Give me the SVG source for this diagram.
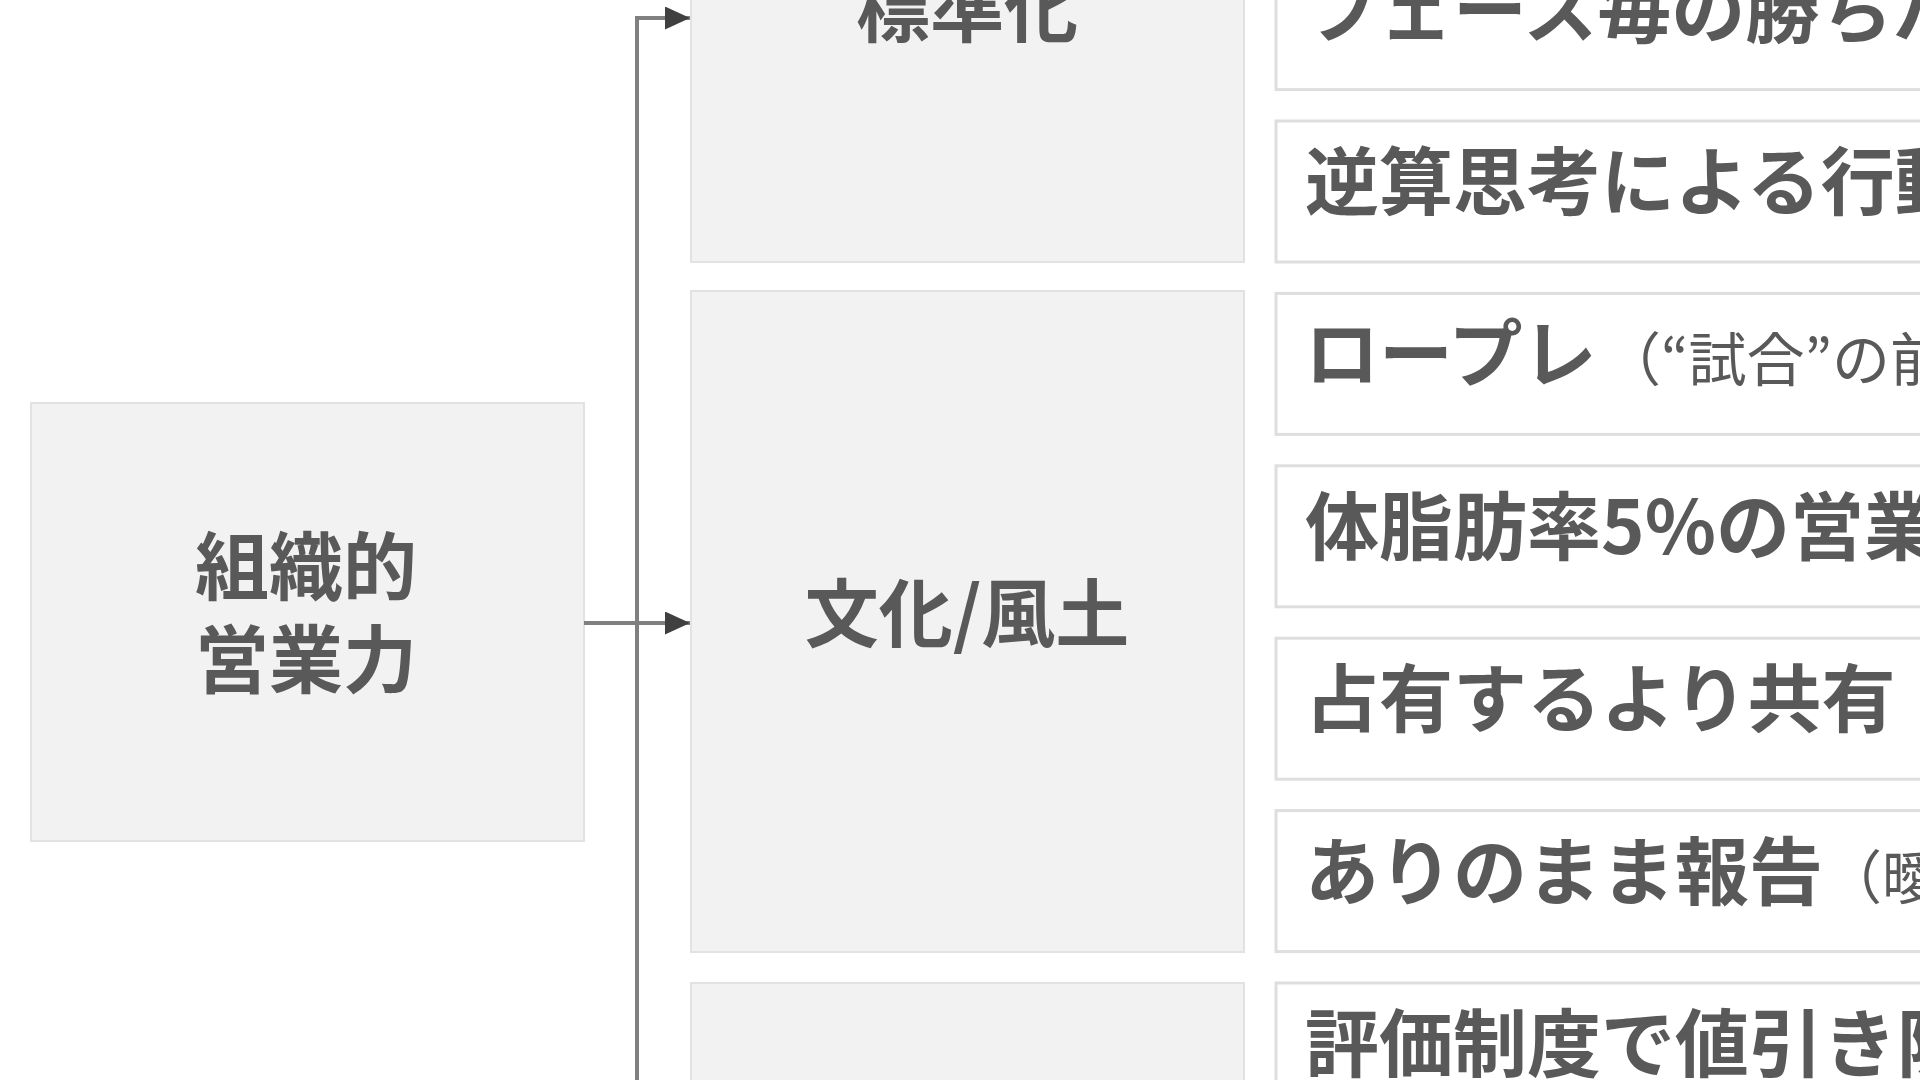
<svg xmlns="http://www.w3.org/2000/svg" width="1920" height="1080" viewBox="0 0 1920 1080">
  <style>
    .gray { fill: #f2f2f2; stroke: #e2e2e2; stroke-width: 2; }
    .item { fill: #ffffff; stroke: #dedede; stroke-width: 3; }
    .t { font-family: "Noto Sans CJK JP", "Noto Sans", sans-serif; font-weight: 700; font-size: 74px; fill: #595959; }
    .c { text-anchor: middle; }
    .s { font-weight: 400; font-size: 58px; }
    .conn { fill: none; stroke: #808080; stroke-width: 4; }
  </style>
  <defs>
    <marker id="arrow" markerUnits="userSpaceOnUse" markerWidth="25" markerHeight="23" refX="25" refY="11.5" orient="auto">
      <path d="M0,0 L25,11.5 L0,23 Z" fill="#404040"/>
    </marker>
  </defs>
  <rect width="1920" height="1080" fill="#ffffff"/>

  <g id="node-root">
    <rect class="gray" x="31" y="403" width="553" height="438"/>
    <text class="t c" x="306" y="594">組織的</text>
    <text class="t c" x="306" y="687">営業力</text>
  </g>

  <g id="connectors">
    <path class="conn" d="M637,1100 V18 H690" marker-end="url(#arrow)"/>
    <path class="conn" d="M584,623 H690" marker-end="url(#arrow)"/>
  </g>

  <g id="node-hyojunka">
    <rect class="gray" x="691" y="-224" width="553" height="486"/>
    <text class="t c" x="967" y="36">標準化</text>
  </g>
  <g id="node-bunka">
    <rect class="gray" x="691" y="291" width="553" height="661"/>
    <text class="t c" x="967" y="641">文化/風土</text>
  </g>
  <g id="node-third">
    <rect class="gray" x="691" y="983" width="553" height="300"/>
  </g>

  <g id="item-1">
    <rect class="item" x="1276" y="-51.4" width="700" height="141"/>
    <text class="t" x="1305" y="36.6">フェース毎の勝ちパ</text>
  </g>
  <g id="item-2">
    <rect class="item" x="1276" y="121" width="700" height="141"/>
    <text class="t" x="1305" y="209">逆算思考による行動</text>
  </g>
  <g id="item-3">
    <rect class="item" x="1276" y="293.4" width="700" height="141"/>
    <text class="t" x="1305" y="381.4">ロープレ<tspan class="s" x="1603">（“試合”の前</tspan></text>
  </g>
  <g id="item-4">
    <rect class="item" x="1276" y="465.8" width="700" height="141"/>
    <text class="t" x="1305" y="553.8">体脂肪率5%の営業</text>
  </g>
  <g id="item-5">
    <rect class="item" x="1276" y="638.2" width="700" height="141"/>
    <text class="t" x="1305" y="726.2">占有するより共有</text>
  </g>
  <g id="item-6">
    <rect class="item" x="1276" y="810.6" width="700" height="141"/>
    <text class="t" x="1305" y="898.6">ありのまま報告<tspan class="s" x="1824">（曖</tspan></text>
  </g>
  <g id="item-7">
    <rect class="item" x="1276" y="983" width="700" height="141"/>
    <text class="t" x="1305" y="1071">評価制度で値引き防</text>
  </g>
</svg>
